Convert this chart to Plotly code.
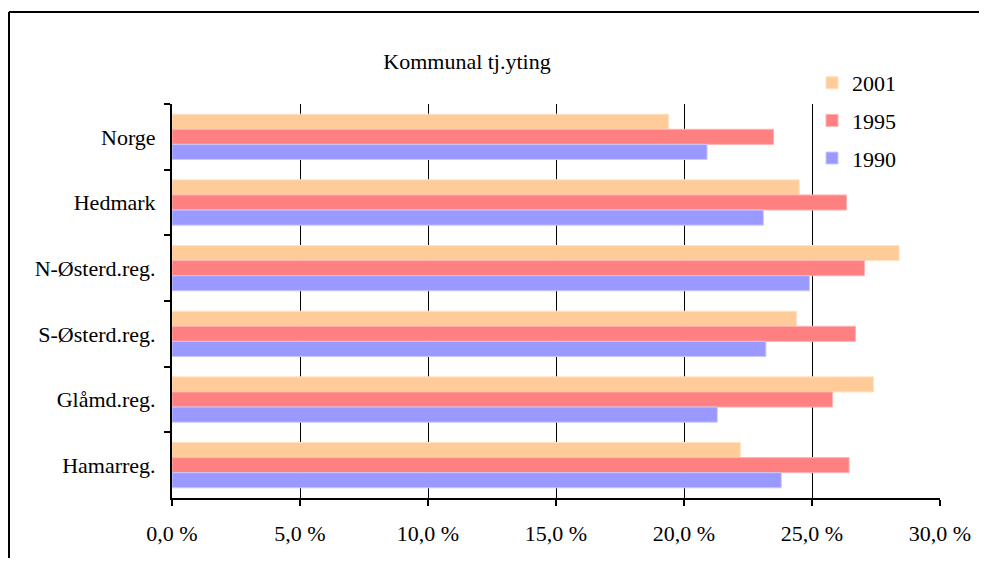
import plotly.graph_objects as go

# categories listed top -> bottom (y axis is reversed)
regioner = ["Norge", "Hedmark", "N-Østerd.reg.", "S-Østerd.reg.", "Glåmd.reg.", "Hamarreg."]

v2001 = [19.4, 24.5, 28.4, 24.4, 27.4, 22.2]
v1995 = [23.5, 26.35, 27.05, 26.7, 25.8, 26.45]
v1990 = [20.9, 23.1, 24.9, 23.2, 21.3, 23.8]

serier = ["2001", "1995", "1990"]
farger = ["#FFCC99", "#FF8080", "#9999FF"]
kanter = ["#FFE2C4", "#FFB4B4", "#C8C8FF"]

xticks = [0, 5, 10, 15, 20, 25, 30]
xlabels = ["0,0 %", "5,0 %", "10,0 %", "15,0 %", "20,0 %", "25,0 %", "30,0 %"]

fnt = "Liberation Serif, serif"
fs = 22

# page has an 8px body margin, so the figure is drawn 8px in from the window
W, H = 979, 550
L, R, T, B = 164, 47, 96, 60
pw, ph = W - L - R, H - T - B

fig = go.Figure()
for navn, verdier, farge, kant in zip(serier, [v2001, v1995, v1990], farger, kanter):
    fig.add_trace(go.Bar(
        y=regioner, x=verdier, name=navn, orientation="h",
        marker=dict(color=farge, line=dict(color=kant, width=1)),
        legendgroup=navn,
    ))

fig.update_layout(
    width=W, height=H,
    margin=dict(l=L, r=R, t=T, b=B),
    paper_bgcolor="white", plot_bgcolor="white",
    barmode="group", bargap=0.31, bargroupgap=0,
    font=dict(family=fnt, size=fs, color="black"),
    title=dict(text="Kommunal tj.yting", x=459 / W, xanchor="center",
               y=1 - 53 / H, yanchor="middle", font=dict(family=fnt, size=fs)),
    legend=dict(x=(804 - L) / pw, y=(H - B - 54) / ph, xanchor="left", yanchor="top",
                traceorder="grouped", tracegroupgap=6,
                bgcolor="rgba(0,0,0,0)", font=dict(family=fnt, size=fs)),
    showlegend=True,
)

fig.update_xaxes(
    range=[0, 30], tickvals=xticks, ticktext=xlabels,
    showgrid=True, gridcolor="black", gridwidth=1,
    showline=True, linecolor="black", linewidth=2,
    ticks="outside", ticklen=6, tickcolor="black", tickwidth=2,
    ticklabelstandoff=9, zeroline=False,
    tickfont=dict(family=fnt, size=fs),
)
fig.update_yaxes(
    categoryorder="array", categoryarray=regioner, autorange="reversed",
    showgrid=False, showline=True, linecolor="black", linewidth=2,
    ticks="outside", tickson="boundaries", ticklen=6, tickcolor="black", tickwidth=2,
    ticklabelstandoff=10,
    tickfont=dict(family=fnt, size=fs),
)

# outer frame round the chart: only the top and left edges are in the picture
fig.add_shape(type="line", xref="paper", yref="paper",
              x0=(1 - L) / pw, x1=(W + 30 - L) / pw,
              y0=(H - B - 4) / ph, y1=(H - B - 4) / ph,
              line=dict(color="black", width=2))
fig.add_shape(type="line", xref="paper", yref="paper",
              x0=(1 - L) / pw, x1=(1 - L) / pw,
              y0=-(B + 40) / ph, y1=(H - B - 4) / ph,
              line=dict(color="black", width=2))

fig.write_html("out.html")
